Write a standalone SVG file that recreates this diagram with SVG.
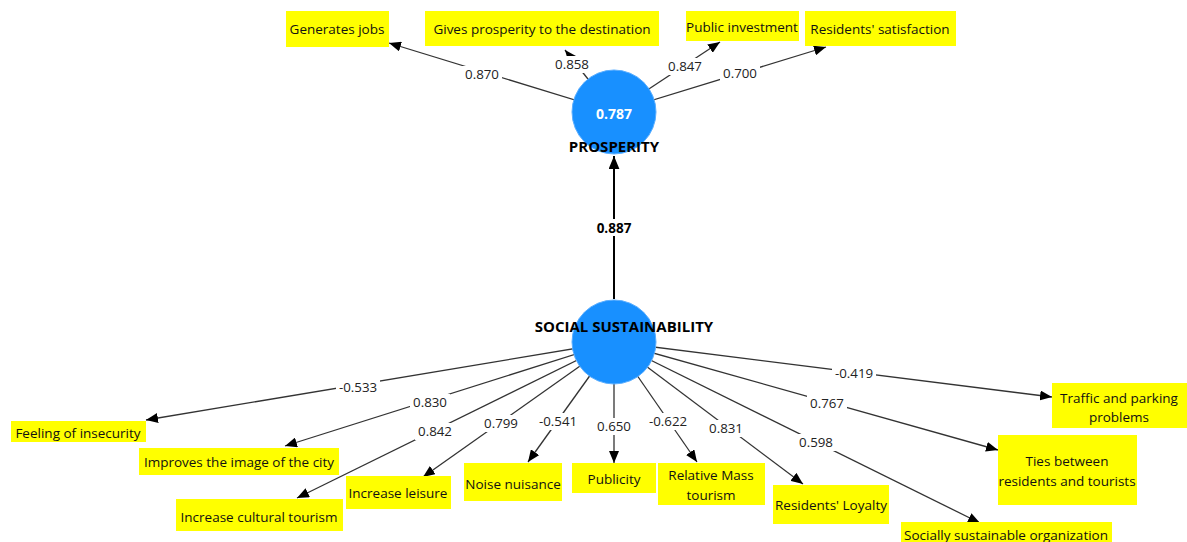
<svg xmlns="http://www.w3.org/2000/svg" width="1187" height="542" viewBox="0 0 1187 542">
<defs>
<marker id="ah" viewBox="0 0 12 10" refX="12" refY="5" markerWidth="12" markerHeight="10" markerUnits="userSpaceOnUse" orient="auto"><path d="M0,0 L12,5 L0,10 z" fill="#000"/></marker>
<marker id="ahb" viewBox="0 0 12 10" refX="12" refY="5" markerWidth="13" markerHeight="11" markerUnits="userSpaceOnUse" orient="auto"><path d="M0,0 L12,5 L0,10 z" fill="#000"/></marker>
</defs>
<style>
.ln{stroke:#333;stroke-width:1.3;fill:none;marker-end:url(#ah)}
.lb{fill:#fff}
.lt{font-family:"Open Sans","DejaVu Sans",sans-serif;font-size:13.3px;fill:#222;text-anchor:middle}
.box{fill:#ffff00}
.bt{font-family:"Open Sans","DejaVu Sans",sans-serif;font-size:13.5px;fill:#111;text-anchor:middle}
.lv{fill:#1890ff;stroke:#5aaeff;stroke-width:1}
.nm{font-family:"Open Sans","DejaVu Sans",sans-serif;font-size:15px;font-weight:bold;fill:#000;text-anchor:middle}
</style>
<rect width="1187" height="542" fill="#fff"/>
<g id="connectors">
<line x1="614" y1="299" x2="614" y2="156" stroke="#000" stroke-width="2" marker-end="url(#ahb)"/>
<rect class="lb" x="593" y="219" width="42" height="17"/>
<text x="614" y="233" class="nm" style="font-size:13.5px">0.887</text>
<line class="ln" x1="614" y1="112" x2="389" y2="43"/>
<line class="ln" x1="614" y1="112" x2="565" y2="50"/>
<line class="ln" x1="614" y1="112" x2="720" y2="42"/>
<line class="ln" x1="614" y1="112" x2="826" y2="47"/>
<line class="ln" x1="614" y1="342" x2="146" y2="420"/>
<line class="ln" x1="614" y1="342" x2="285" y2="446"/>
<line class="ln" x1="614" y1="342" x2="297" y2="498"/>
<line class="ln" x1="614" y1="342" x2="423" y2="477"/>
<line class="ln" x1="614" y1="342" x2="528" y2="462"/>
<line class="ln" x1="614" y1="342" x2="614" y2="463"/>
<line class="ln" x1="614" y1="342" x2="697" y2="462"/>
<line class="ln" x1="614" y1="342" x2="803" y2="484"/>
<line class="ln" x1="614" y1="342" x2="980" y2="523"/>
<line class="ln" x1="614" y1="342" x2="998" y2="450"/>
<line class="ln" x1="614" y1="342" x2="1052" y2="397"/>
<g>
<rect class="lb" x="462" y="66" width="40" height="17"/><text class="lt" x="482" y="79">0.870</text>
<rect class="lb" x="552" y="56" width="40" height="17"/><text class="lt" x="572" y="69">0.858</text>
<rect class="lb" x="665" y="58" width="40" height="17"/><text class="lt" x="685" y="71">0.847</text>
<rect class="lb" x="720" y="65" width="40" height="17"/><text class="lt" x="740" y="78">0.700</text>
<rect class="lb" x="336" y="379" width="44" height="17"/><text class="lt" x="358" y="392">-0.533</text>
<rect class="lb" x="410" y="394" width="40" height="17"/><text class="lt" x="430" y="407">0.830</text>
<rect class="lb" x="415" y="423" width="40" height="17"/><text class="lt" x="435" y="436">0.842</text>
<rect class="lb" x="481" y="415" width="40" height="17"/><text class="lt" x="501" y="428">0.799</text>
<rect class="lb" x="536" y="413" width="44" height="17"/><text class="lt" x="558" y="426">-0.541</text>
<rect class="lb" x="594" y="418" width="40" height="17"/><text class="lt" x="614" y="431">0.650</text>
<rect class="lb" x="646" y="413" width="44" height="17"/><text class="lt" x="668" y="426">-0.622</text>
<rect class="lb" x="706" y="420" width="40" height="17"/><text class="lt" x="726" y="433">0.831</text>
<rect class="lb" x="832" y="365" width="44" height="17"/><text class="lt" x="854" y="378">-0.419</text>
<rect class="lb" x="807" y="395" width="40" height="17"/><text class="lt" x="827" y="408">0.767</text>
<rect class="lb" x="796" y="434" width="40" height="17"/><text class="lt" x="816" y="447">0.598</text>
</g>
</g>
<g id="prosperity">
<circle class="lv" cx="614" cy="112" r="42"/>
<text x="614" y="119" class="nm" style="fill:#fff;font-size:14px">0.787</text>
<text x="614" y="152" class="nm">PROSPERITY</text>
</g>
<g id="social-sustainability">
<circle class="lv" cx="614" cy="342" r="42"/>
<text x="624" y="332" class="nm">SOCIAL SUSTAINABILITY</text>
</g>
<g id="generates-jobs"><rect class="box" x="286" y="11" width="103" height="36"/><text class="bt" x="337" y="34">Generates jobs</text></g>
<g id="gives-prosperity"><rect class="box" x="425" y="11" width="234" height="35"/><text class="bt" x="542" y="34">Gives prosperity to the destination</text></g>
<g id="public-investment"><rect class="box" x="686" y="11" width="113" height="30"/><text class="bt" x="742" y="32">Public investment</text></g>
<g id="residents-satisfaction"><rect class="box" x="805" y="11" width="151" height="35"/><text class="bt" x="880" y="34">Residents' satisfaction</text></g>
<g id="feeling-insecurity"><rect class="box" x="11" y="421" width="135" height="21"/><text class="bt" x="78" y="438">Feeling of insecurity</text></g>
<g id="improves-image"><rect class="box" x="139" y="448" width="200" height="27"/><text class="bt" x="239" y="467">Improves the image of the city</text></g>
<g id="increase-cultural"><rect class="box" x="176" y="499" width="167" height="32"/><text class="bt" x="259" y="522">Increase cultural tourism</text></g>
<g id="increase-leisure"><rect class="box" x="346" y="476" width="105" height="33"/><text class="bt" x="398" y="498">Increase leisure</text></g>
<g id="noise-nuisance"><rect class="box" x="464" y="463" width="98" height="38"/><text class="bt" x="513" y="489">Noise nuisance</text></g>
<g id="publicity"><rect class="box" x="572" y="463" width="84" height="30"/><text class="bt" x="614" y="484">Publicity</text></g>
<g id="relative-mass"><rect class="box" x="658" y="463" width="107" height="42"/><text class="bt" x="711" y="480">Relative Mass</text><text class="bt" x="711" y="500">tourism</text></g>
<g id="residents-loyalty"><rect class="box" x="773" y="485" width="116" height="39"/><text class="bt" x="831" y="510">Residents' Loyalty</text></g>
<g id="socially-sustainable"><rect class="box" x="901" y="522" width="211" height="22"/><text class="bt" x="1006" y="540">Socially sustainable organization</text></g>
<g id="ties"><rect class="box" x="998" y="435" width="139" height="70"/><text class="bt" x="1067" y="466">Ties between</text><text class="bt" x="1067" y="486">residents and tourists</text></g>
<g id="traffic"><rect class="box" x="1052" y="383" width="135" height="45"/><text class="bt" x="1119" y="403">Traffic and parking</text><text class="bt" x="1119" y="422">problems</text></g>
</svg>
